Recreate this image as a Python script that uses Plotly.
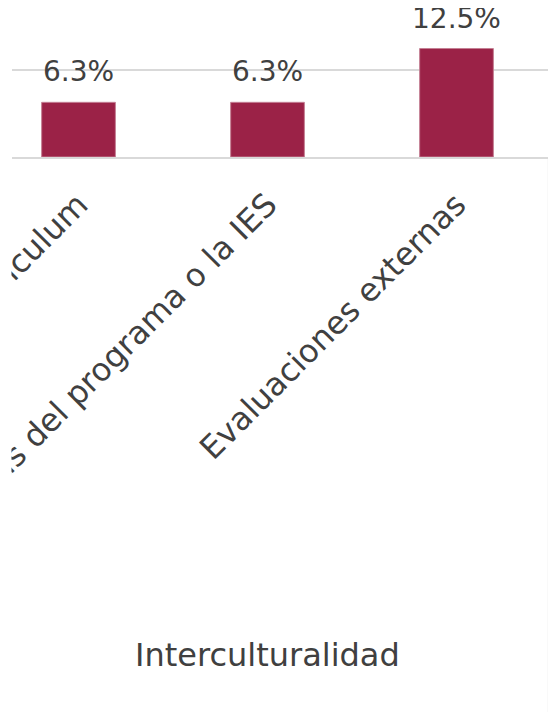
import plotly.graph_objects as go

categories = ["Currículum", "Políticas del programa o la IES", "Evaluaciones externas"]
values = [6.3, 6.3, 12.5]
labels = ["6.3%", "6.3%", "12.5%"]
group_label = "Interculturalidad"

FONT = "DejaVu Sans"
TXT = "#404040"
GRID = "#d9d9d9"

fig = go.Figure()
fig.add_trace(go.Bar(
    x=categories, y=values,
    marker=dict(color="#9b2247", line=dict(color="#c47f93", width=1)),
    width=0.39, hoverinfo="skip",
))

for c, v, t in zip(categories, values, labels):
    fig.add_annotation(
        x=c, y=v, text=t, showarrow=False, yanchor="bottom", yshift=12,
        font=dict(family=FONT, size=28, color=TXT),
    )

fig.update_layout(
    width=556, height=719,
    margin=dict(l=4, r=13, t=0, b=570),
    paper_bgcolor="white", plot_bgcolor="white",
    showlegend=False,
    font=dict(family=FONT, size=28, color=TXT),
    xaxis=dict(
        type="category", range=[-0.352, 2.5], tickangle=-45,
        showline=True, linecolor=GRID, linewidth=2,
        ticks="", showgrid=False, ticklabelstandoff=14,
        tickfont=dict(family=FONT, size=32, color=TXT),
        automargin=False,
    ),
    yaxis=dict(
        range=[0, 17.17], dtick=10, showticklabels=False,
        showgrid=True, gridcolor=GRID, gridwidth=2,
        zeroline=False, automargin=False,
    ),
)

fig.add_annotation(
    x=1, xref="x", y=-3.342, yref="paper", text=group_label,
    showarrow=False, yanchor="middle",
    font=dict(family=FONT, size=32, color=TXT),
)
fig.add_shape(
    type="line", xref="paper", yref="paper",
    x0=0.996, x1=0.996, y0=0, y1=-3.725,
    line=dict(color=GRID, width=2),
)
# white mask: the reference is cropped at the plot's left edge
fig.add_shape(
    type="rect", xref="paper", yref="paper", layer="above",
    x0=-0.05, x1=-0.001, y0=-4.0, y1=-0.02,
    fillcolor="white", line=dict(width=0),
)

fig.write_html("out.html")
